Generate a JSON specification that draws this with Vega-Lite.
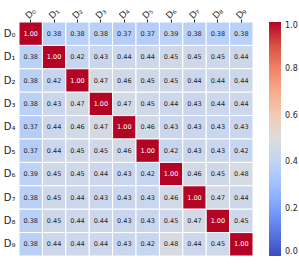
{
  "$schema": "https://vega.github.io/schema/vega-lite/v6.json",
  "autosize": "none",
  "width": 234,
  "height": 234,
  "padding": {"left": 19, "top": 22, "right": 46, "bottom": 8},
  "background": "white",
  "config": {"view": {"stroke": null}, "font": "DejaVu Sans"},
  "data": {"values": [
    {"r":"D₀","c":"D₀","v":1.00},{"r":"D₀","c":"D₁","v":0.38},{"r":"D₀","c":"D₂","v":0.38},{"r":"D₀","c":"D₃","v":0.38},{"r":"D₀","c":"D₄","v":0.37},{"r":"D₀","c":"D₅","v":0.37},{"r":"D₀","c":"D₆","v":0.39},{"r":"D₀","c":"D₇","v":0.38},{"r":"D₀","c":"D₈","v":0.38},{"r":"D₀","c":"D₉","v":0.38},
    {"r":"D₁","c":"D₀","v":0.38},{"r":"D₁","c":"D₁","v":1.00},{"r":"D₁","c":"D₂","v":0.42},{"r":"D₁","c":"D₃","v":0.43},{"r":"D₁","c":"D₄","v":0.44},{"r":"D₁","c":"D₅","v":0.44},{"r":"D₁","c":"D₆","v":0.45},{"r":"D₁","c":"D₇","v":0.45},{"r":"D₁","c":"D₈","v":0.45},{"r":"D₁","c":"D₉","v":0.44},
    {"r":"D₂","c":"D₀","v":0.38},{"r":"D₂","c":"D₁","v":0.42},{"r":"D₂","c":"D₂","v":1.00},{"r":"D₂","c":"D₃","v":0.47},{"r":"D₂","c":"D₄","v":0.46},{"r":"D₂","c":"D₅","v":0.45},{"r":"D₂","c":"D₆","v":0.45},{"r":"D₂","c":"D₇","v":0.44},{"r":"D₂","c":"D₈","v":0.44},{"r":"D₂","c":"D₉","v":0.44},
    {"r":"D₃","c":"D₀","v":0.38},{"r":"D₃","c":"D₁","v":0.43},{"r":"D₃","c":"D₂","v":0.47},{"r":"D₃","c":"D₃","v":1.00},{"r":"D₃","c":"D₄","v":0.47},{"r":"D₃","c":"D₅","v":0.45},{"r":"D₃","c":"D₆","v":0.44},{"r":"D₃","c":"D₇","v":0.43},{"r":"D₃","c":"D₈","v":0.44},{"r":"D₃","c":"D₉","v":0.44},
    {"r":"D₄","c":"D₀","v":0.37},{"r":"D₄","c":"D₁","v":0.44},{"r":"D₄","c":"D₂","v":0.46},{"r":"D₄","c":"D₃","v":0.47},{"r":"D₄","c":"D₄","v":1.00},{"r":"D₄","c":"D₅","v":0.46},{"r":"D₄","c":"D₆","v":0.43},{"r":"D₄","c":"D₇","v":0.43},{"r":"D₄","c":"D₈","v":0.43},{"r":"D₄","c":"D₉","v":0.43},
    {"r":"D₅","c":"D₀","v":0.37},{"r":"D₅","c":"D₁","v":0.44},{"r":"D₅","c":"D₂","v":0.45},{"r":"D₅","c":"D₃","v":0.45},{"r":"D₅","c":"D₄","v":0.46},{"r":"D₅","c":"D₅","v":1.00},{"r":"D₅","c":"D₆","v":0.42},{"r":"D₅","c":"D₇","v":0.43},{"r":"D₅","c":"D₈","v":0.43},{"r":"D₅","c":"D₉","v":0.42},
    {"r":"D₆","c":"D₀","v":0.39},{"r":"D₆","c":"D₁","v":0.45},{"r":"D₆","c":"D₂","v":0.45},{"r":"D₆","c":"D₃","v":0.44},{"r":"D₆","c":"D₄","v":0.43},{"r":"D₆","c":"D₅","v":0.42},{"r":"D₆","c":"D₆","v":1.00},{"r":"D₆","c":"D₇","v":0.46},{"r":"D₆","c":"D₈","v":0.45},{"r":"D₆","c":"D₉","v":0.48},
    {"r":"D₇","c":"D₀","v":0.38},{"r":"D₇","c":"D₁","v":0.45},{"r":"D₇","c":"D₂","v":0.44},{"r":"D₇","c":"D₃","v":0.43},{"r":"D₇","c":"D₄","v":0.43},{"r":"D₇","c":"D₅","v":0.43},{"r":"D₇","c":"D₆","v":0.46},{"r":"D₇","c":"D₇","v":1.00},{"r":"D₇","c":"D₈","v":0.47},{"r":"D₇","c":"D₉","v":0.44},
    {"r":"D₈","c":"D₀","v":0.38},{"r":"D₈","c":"D₁","v":0.45},{"r":"D₈","c":"D₂","v":0.44},{"r":"D₈","c":"D₃","v":0.44},{"r":"D₈","c":"D₄","v":0.43},{"r":"D₈","c":"D₅","v":0.43},{"r":"D₈","c":"D₆","v":0.45},{"r":"D₈","c":"D₇","v":0.47},{"r":"D₈","c":"D₈","v":1.00},{"r":"D₈","c":"D₉","v":0.45},
    {"r":"D₉","c":"D₀","v":0.38},{"r":"D₉","c":"D₁","v":0.44},{"r":"D₉","c":"D₂","v":0.44},{"r":"D₉","c":"D₃","v":0.44},{"r":"D₉","c":"D₄","v":0.43},{"r":"D₉","c":"D₅","v":0.42},{"r":"D₉","c":"D₆","v":0.48},{"r":"D₉","c":"D₇","v":0.44},{"r":"D₉","c":"D₈","v":0.45},{"r":"D₉","c":"D₉","v":1.00}
  ]},
  "encoding": {
    "x": {"field": "c", "type": "nominal", "sort": ["D₀","D₁","D₂","D₃","D₄","D₅","D₆","D₇","D₈","D₉"],
      "scale": {"paddingInner": 0, "paddingOuter": 0},
      "axis": {"orient": "top", "title": null, "domain": false, "labelAngle": -45, "labelAlign": "center", "labelBaseline": "middle", "labelFontSize": 9, "labelColor": "#262626", "tickColor": "#262626", "tickSize": 3, "labelPadding": 6}},
    "y": {"field": "r", "type": "nominal", "sort": ["D₀","D₁","D₂","D₃","D₄","D₅","D₆","D₇","D₈","D₉"],
      "scale": {"paddingInner": 0, "paddingOuter": 0},
      "axis": {"title": null, "domain": false, "ticks": false, "labelFontSize": 10, "labelColor": "#262626", "labelPadding": 4, "labelAlign": "right", "labelBaseline": "middle"}}
  },
  "layer": [
    {"mark": {"type": "rect", "stroke": "white", "strokeWidth": 1},
     "encoding": {"color": {"field": "v", "type": "quantitative",
        "scale": {"domain": [0,0.1,0.2,0.3,0.4,0.5,0.6,0.7,0.8,0.9,1.0],
                  "range": ["#3b4cc0","#5977e3","#7b9ff9","#9ebeff","#c0d4f5","#dddcdc","#f2cbb7","#f7ac8e","#ee8468","#d65244","#b40426"],
                  "interpolate": "rgb"},
        "legend": {"title": null, "orient": "right", "offset": 16, "gradientLength": 234, "gradientThickness": 12, "values": [0,0.2,0.4,0.6,0.8,1.0], "format": ".1f", "labelFontSize": 8, "labelColor": "#262626", "gradientStrokeWidth": 0, "padding": 0, "labelOffset": 4, "labelOverlap": false}}}},
    {"mark": {"type": "text", "fontSize": 6.5},
     "encoding": {"text": {"field": "v", "type": "quantitative", "format": ".2f"},
       "color": {"condition": {"test": "datum.v > 0.8", "value": "white"}, "value": "#262626"}}}
  ]
}
